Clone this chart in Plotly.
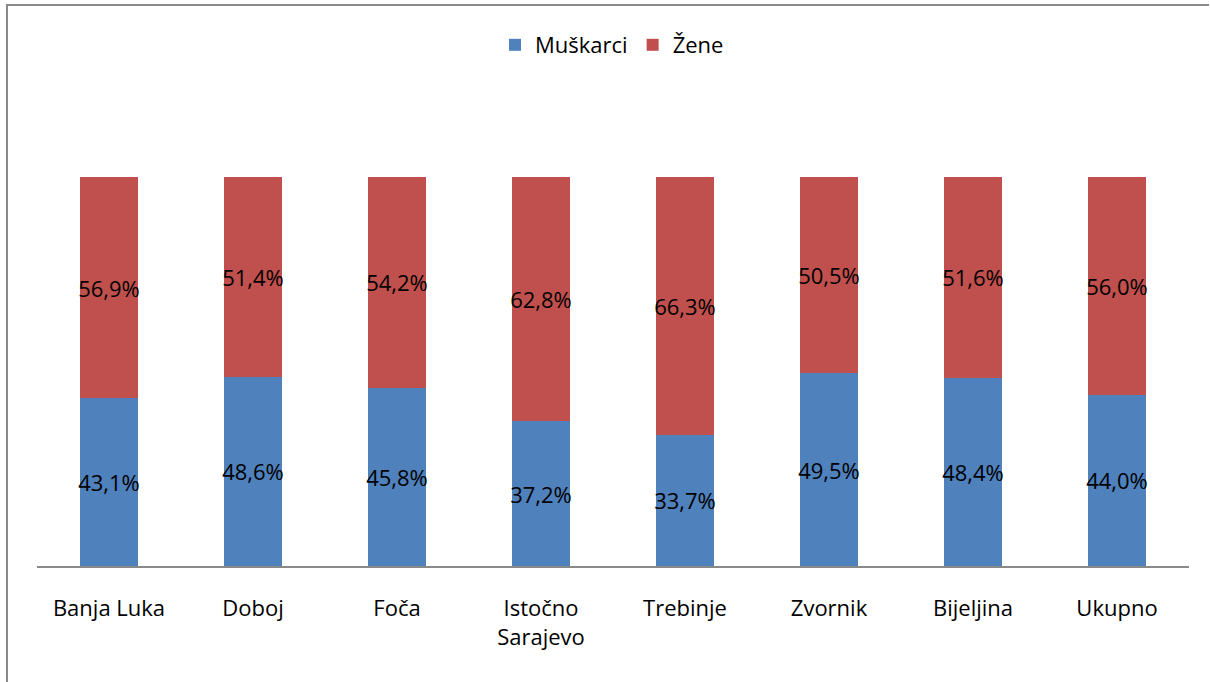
import plotly.graph_objects as go

categories = ["Banja Luka", "Doboj", "Foča", "Istočno<br>Sarajevo", "Trebinje", "Zvornik", "Bijeljina", "Ukupno"]
muskarci = [43.1, 48.6, 45.8, 37.2, 33.7, 49.5, 48.4, 44.0]
zene = [56.9, 51.4, 54.2, 62.8, 66.3, 50.5, 51.6, 56.0]
series_names = ["Muškarci", "Žene"]
colors = ["#4F81BD", "#C0504D"]

FONT = "'Open Sans', 'Noto Sans', sans-serif"

def fmt(v):
    return f"{v:.1f}".replace(".", ",") + "%"

fig = go.Figure()
for name, vals, col in zip(series_names, [muskarci, zene], colors):
    fig.add_trace(go.Bar(
        x=categories, y=[v / 100 for v in vals], name=name,
        marker=dict(color=col, line=dict(width=0)),
        text=[fmt(v) for v in vals], textposition="inside",
        insidetextanchor="middle", textangle=0, constraintext="none",
        textfont=dict(color="black", size=22, family=FONT),
        width=0.40, hoverinfo="skip",
    ))

W, H = 1210, 682
L, R, T, B = 37, 21, 177, 116
pw, ph = W - L - R, H - T - B

def px_x(x):
    return (x - L) / pw

def px_y(y):
    return (H - B - y) / ph

fig.update_layout(
    width=W, height=H, barmode="stack",
    margin=dict(l=L, r=R, t=T, b=B, autoexpand=False),
    paper_bgcolor="white", plot_bgcolor="white",
    font=dict(family=FONT, size=22, color="black"),
    bargap=0.6,
    legend=dict(orientation="h", x=px_x(612), y=px_y(45), xanchor="center", yanchor="middle",
                font=dict(size=22, family=FONT), traceorder="normal",
                itemsizing="constant", itemwidth=30, tracegroupgap=0),
    xaxis=dict(showgrid=False, showline=True, linecolor="#898989", linewidth=1.5,
               ticks="", tickfont=dict(size=22, family=FONT), ticklabelstandoff=22,
               zeroline=False),
    yaxis=dict(range=[0, 1], visible=False, showgrid=False, zeroline=False),
    showlegend=True,
    shapes=[
        dict(type="line", xref="paper", yref="paper", x0=px_x(6), x1=px_x(1209), y0=px_y(5), y1=px_y(5),
             line=dict(color="#898989", width=2)),
        dict(type="line", xref="paper", yref="paper", x0=px_x(7), x1=px_x(7), y0=px_y(4), y1=px_y(682),
             line=dict(color="#898989", width=2)),
    ],
)

fig.write_html("out.html", config={"displayModeBar": False},
               post_script="document.body.style.margin='0';document.body.style.overflow='hidden';")
